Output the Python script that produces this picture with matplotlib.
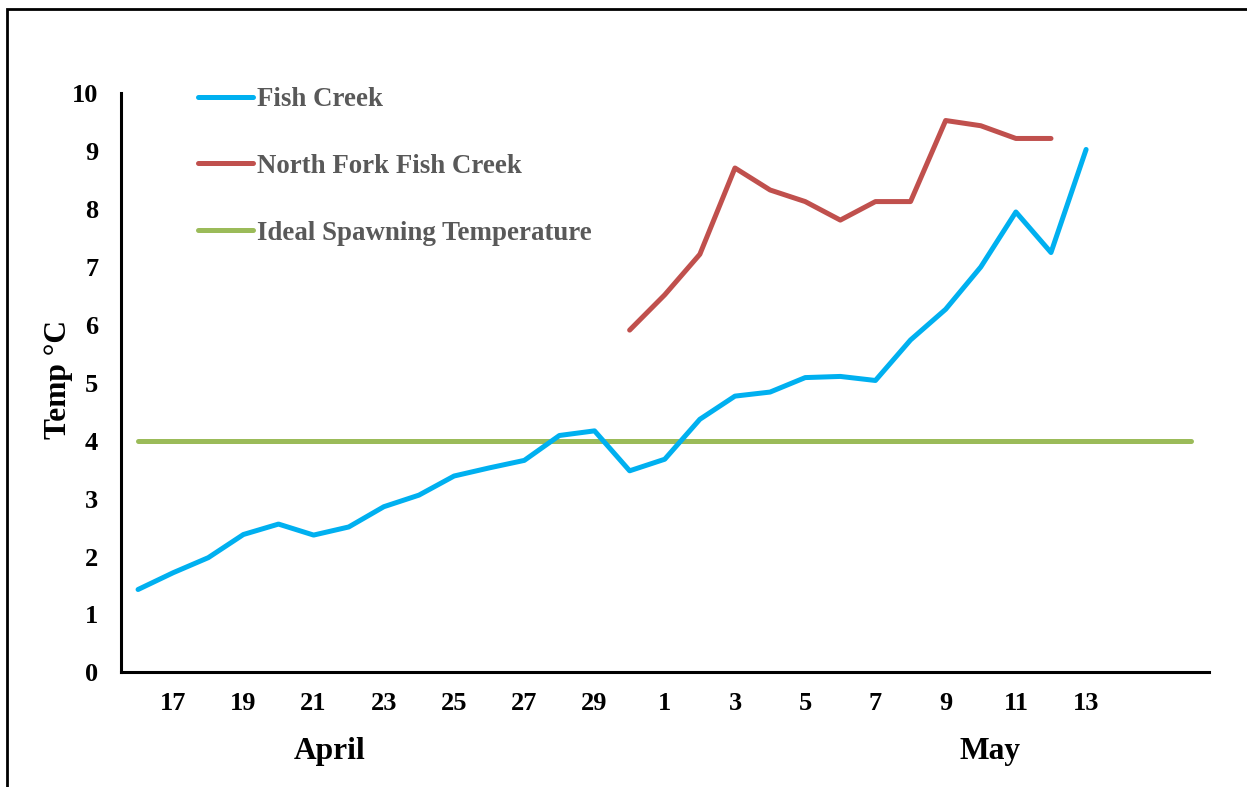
import matplotlib
matplotlib.use("Agg")
import matplotlib.pyplot as plt
from matplotlib.patches import Rectangle
import numpy as np

# ---- data ----
days = ["16", "17", "18", "19", "20", "21", "22", "23", "24", "25", "26", "27", "28", "29", "30",
        "1", "2", "3", "4", "5", "6", "7", "8", "9", "10", "11", "12", "13", "14", "15", "16"]
fish_creek = [1.43, 1.72, 1.98, 2.38, 2.56, 2.37, 2.51, 2.86, 3.06, 3.39, 3.53, 3.66, 4.09, 4.17,
              3.48, 3.68, 4.37, 4.77, 4.84, 5.09, 5.11, 5.04, 5.74, 6.27, 7.00, 7.95, 7.25, 9.03]
north_fork_start = 14
north_fork = [5.91, 6.52, 7.22, 8.71, 8.33, 8.13, 7.81, 8.13, 8.13, 9.53, 9.44, 9.22, 9.22]
ideal_temp = 4.0
labelled_ticks = ["17", "19", "21", "23", "25", "27", "29", "1", "3", "5", "7", "9", "11", "13"]
month_labels = ["April", "May"]
yticks = list(range(0, 11))

W, H = 1247, 787
plt.rcParams['font.family'] = ['Liberation Serif', 'DejaVu Serif']
plt.rcParams['font.weight'] = 'bold'

fig = plt.figure(figsize=(W / 100, H / 100), dpi=100)
ax = fig.add_axes([120.5 / W, 1 - 672.3 / H, (1209 - 120.5) / W, (672.3 - 93.3) / H])

x = np.arange(len(days))
ax.plot(x[:len(fish_creek)], fish_creek, color="#00B0F0", lw=3.6,
        solid_capstyle='round', solid_joinstyle='round', label="Fish Creek", zorder=3)
ax.plot(x[north_fork_start:north_fork_start + len(north_fork)], north_fork, color="#C0504D", lw=3.6,
        solid_capstyle='round', solid_joinstyle='round', label="North Fork Fish Creek", zorder=3)
ax.plot(x, [ideal_temp] * len(days), color="#9BBB59", lw=3.6,
        solid_capstyle='round', label="Ideal Spawning Temperature", zorder=2)

ax.set_xlim(-0.5, len(days) - 0.5)
ax.set_ylim(0, 10)

tick_pos = [i for i in range(1, len(days)) if days[i] in labelled_ticks and i < 28]
ax.set_xticks(tick_pos)
ax.set_xticklabels([days[i] for i in tick_pos], fontsize=19, fontweight='bold')
ax.set_yticks(yticks)
ax.set_yticklabels([str(v) for v in yticks], fontsize=19, fontweight='bold')
ax.tick_params(axis='x', length=0, pad=14)
ax.tick_params(axis='y', length=0, pad=16)

for s in ['top', 'right']:
    ax.spines[s].set_visible(False)
for s in ['left', 'bottom']:
    ax.spines[s].set_linewidth(2.2)
    ax.spines[s].set_color('black')

ax.set_ylabel("Temp °C", fontsize=22.7, fontweight='bold')
ax.yaxis.set_label_coords(-0.0435, 0.505)

# month labels
fig.text(330 / W, 1 - 752 / H, month_labels[0], fontsize=22.7, fontweight='bold', ha='center', va='center')
fig.text(990 / W, 1 - 752 / H, month_labels[1], fontsize=22.7, fontweight='bold', ha='center', va='center')

leg = ax.legend(loc='upper left', bbox_to_anchor=(198 / W, 1 - 87 / H), bbox_transform=fig.transFigure,
                frameon=False, fontsize=19.4, handlelength=2.05, handletextpad=0.15,
                labelspacing=1.55, borderpad=0, borderaxespad=0)
for t in leg.get_texts():
    t.set_color('#595959')
    t.set_fontweight('bold')

# outer frame
fig.patches.append(Rectangle((7 / W, -0.2), 1.5, 1 - 9.3 / H + 0.2, transform=fig.transFigure,
                             fill=False, edgecolor='black', lw=2.0, clip_on=False))

fig.savefig("out.png", dpi=100)
